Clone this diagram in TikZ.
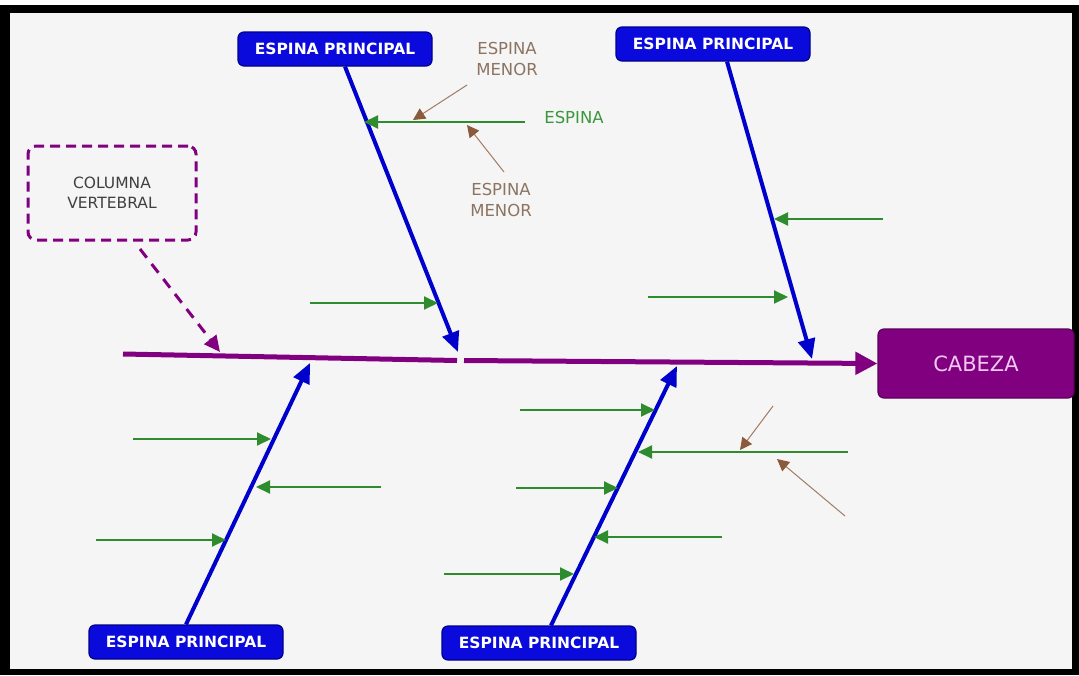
\documentclass[tikz,border=0pt]{standalone}
\usepackage{fontspec}
\setmainfont{DejaVu Sans}
\usetikzlibrary{arrows.meta}
\definecolor{bg}{HTML}{F5F5F5}
\definecolor{spine}{HTML}{800080}
\definecolor{bone}{HTML}{0000CC}
\definecolor{bonefill}{HTML}{0A0ADC}
\definecolor{boneborder}{HTML}{00008B}
\definecolor{rib}{HTML}{2E8B2E}
\definecolor{ribtext}{HTML}{3C963C}
\definecolor{minor}{HTML}{8B5A3C}
\definecolor{minortext}{HTML}{8C7462}
\definecolor{headtext}{HTML}{F2C8F2}
\begin{document}
\begin{tikzpicture}[x=1pt,y=-1pt,
  mainbox/.style={draw=boneborder,line width=1.2pt,fill=bonefill,rounded corners=6pt,
    text=white,font=\bfseries\fontsize{15.5}{18}\selectfont,minimum width=194pt,minimum height=34pt,inner sep=0pt},
  mainbone/.style={bone,line width=4pt,-{Triangle[length=20pt,width=17pt]}},
  ribarrow/.style={rib,line width=2pt,-{Triangle[length=14pt,width=13pt]}},
  minorarrow/.style={minor!80,line width=1pt,-{Triangle[length=12pt,width=12pt,color=minor,fill=minor]}},
  minorlabel/.style={text=minortext,align=center,font=\fontsize{16.5}{21}\selectfont},
]
\useasboundingbox (0,0) rectangle (1079,675);
\fill[white] (0,0) rectangle (1079,675);
\fill[black] (0,5) rectangle (1079,675);
\fill[bg] (10,13) rectangle (1072,669);

% head
\node[draw=spine!70!black,line width=1.2pt,fill=spine,rounded corners=6pt,minimum width=196pt,minimum height=69pt,
  text=headtext,font=\fontsize{21}{24}\selectfont] (head) at (976,363.5) {CABEZA};

% backbone
\coordinate (s0) at (123,354);
\coordinate (s1) at (457,360.5);
\coordinate (s2) at (464,360.5);
\draw[spine,line width=5pt] (s0) -- (s1);
\draw[spine,line width=5pt,-{Triangle[length=22pt,width=22pt]}] (s2) -- (head.west);

% column vertebral box
\node[draw=spine,dashed,dash pattern=on 10pt off 6pt,line width=3pt,rounded corners=8pt,minimum width=168pt,minimum height=94pt,
  text=black!75,align=center,font=\fontsize{15.5}{20}\selectfont] (col) at (112,193) {COLUMNA\\VERTEBRAL};
\coordinate (colend) at (220,352);
\draw[spine,line width=3pt,dash pattern=on 11pt off 8pt,-{Triangle[length=16pt,width=15pt]}] (140,249) -- (colend);

% main bone boxes
\node[mainbox] (tl) at (335,49) {ESPINA PRINCIPAL};
\node[mainbox] (tr) at (713,44) {ESPINA PRINCIPAL};
\node[mainbox] (bl) at (186,642) {ESPINA PRINCIPAL};
\node[mainbox] (br) at (539,643) {ESPINA PRINCIPAL};

\coordinate (tlend) at (458,352);
\coordinate (trend) at (812,359);
\coordinate (blend) at (310,363);
\coordinate (brend) at (677,366);
\draw[mainbone] (tl.south -| 345,0) -- (tlend);
\draw[mainbone] (tr.south -| 727,0) -- (trend);
\draw[mainbone] (bl.north -| 186,0) -- (blend);
\draw[mainbone] (br.north -| 551,0) -- (brend);

% ribs top-left bone
\coordinate (r1a) at (525,122); \coordinate (r1b) at (364,122);
\draw[ribarrow] (r1a) -- (r1b);
\node[text=ribtext,font=\fontsize{16.5}{20}\selectfont] (esp) at (574,117) {ESPINA};
\coordinate (r2a) at (310,303); \coordinate (r2b) at (438,303);
\draw[ribarrow] (r2a) -- (r2b);
% ribs top-right bone
\coordinate (r3a) at (883,219); \coordinate (r3b) at (774,219);
\draw[ribarrow] (r3a) -- (r3b);
\coordinate (r4a) at (648,297); \coordinate (r4b) at (788,297);
\draw[ribarrow] (r4a) -- (r4b);
% ribs bottom-left bone
\coordinate (r5a) at (133,439); \coordinate (r5b) at (271,439);
\draw[ribarrow] (r5a) -- (r5b);
\coordinate (r6a) at (381,487); \coordinate (r6b) at (256,487);
\draw[ribarrow] (r6a) -- (r6b);
\coordinate (r7a) at (96,540); \coordinate (r7b) at (226,540);
\draw[ribarrow] (r7a) -- (r7b);
% ribs bottom-right bone
\coordinate (r8a) at (520,410); \coordinate (r8b) at (655,410);
\draw[ribarrow] (r8a) -- (r8b);
\coordinate (r9a) at (848,452); \coordinate (r9b) at (638,452);
\draw[ribarrow] (r9a) -- (r9b);
\coordinate (r10a) at (516,488); \coordinate (r10b) at (618,488);
\draw[ribarrow] (r10a) -- (r10b);
\coordinate (r11a) at (722,537); \coordinate (r11b) at (594,537);
\draw[ribarrow] (r11a) -- (r11b);
\coordinate (r12a) at (444,574); \coordinate (r12b) at (574,574);
\draw[ribarrow] (r12a) -- (r12b);

% minor spines
\node[minorlabel] (m1) at (507,59) {ESPINA\\MENOR};
\node[minorlabel] (m2) at (501,200) {ESPINA\\MENOR};
\coordinate (m1a) at (467,85); \coordinate (m1b) at (413,120);
\draw[minorarrow] (m1a) -- (m1b);
\coordinate (m2a) at (504,172); \coordinate (m2b) at (467,125);
\draw[minorarrow] (m2a) -- (m2b);
\coordinate (m3a) at (773,406); \coordinate (m3b) at (740,450);
\draw[minorarrow] (m3a) -- (m3b);
\coordinate (m4a) at (845,516); \coordinate (m4b) at (777,459);
\draw[minorarrow] (m4a) -- (m4b);
\end{tikzpicture}
\end{document}
